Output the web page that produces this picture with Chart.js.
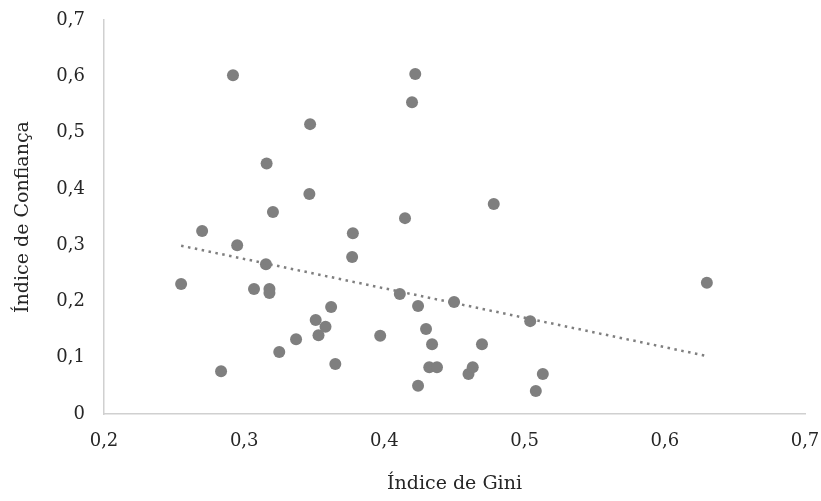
<!DOCTYPE html>
<html>
<head>
<meta charset="utf-8">
<script src="https://cdn.jsdelivr.net/npm/chart.js@4/dist/chart.umd.min.js"></script>
<style>
  body { margin: 0; background: #fff; }
  #chart { display: block; }
</style>
</head>
<body>
<canvas id="chart" width="821" height="501"></canvas>
<script>
// Índice de Gini (x) and Índice de Confiança (y)
const gini = [
  0.255, 0.270, 0.2835, 0.292, 0.295, 0.307, 0.316, 0.3155, 0.318, 0.318,
  0.3205, 0.325, 0.337, 0.3465, 0.347, 0.351, 0.353, 0.358, 0.362, 0.365,
  0.377, 0.3775, 0.397, 0.411, 0.4147, 0.4197, 0.422, 0.424, 0.424, 0.4297,
  0.434, 0.432, 0.4375, 0.4497, 0.460, 0.463, 0.4696, 0.478, 0.504, 0.508,
  0.513, 0.630
];
const confianca = [
  0.231, 0.325, 0.076, 0.602, 0.300, 0.222, 0.445, 0.266, 0.222, 0.215,
  0.359, 0.110, 0.133, 0.391, 0.515, 0.167, 0.140, 0.155, 0.190, 0.089,
  0.279, 0.321, 0.139, 0.213, 0.348, 0.554, 0.604, 0.192, 0.050, 0.151,
  0.124, 0.083, 0.083, 0.199, 0.071, 0.083, 0.124, 0.373, 0.165, 0.041,
  0.071, 0.233
];

// linear trendline ends
const trendX = [0.255, 0.630];
const trendY = [0.299, 0.103];

const xTicks = [0.2, 0.3, 0.4, 0.5, 0.6, 0.7];
const xTickLabels = ["0,2", "0,3", "0,4", "0,5", "0,6", "0,7"];
const yTicks = [0, 0.1, 0.2, 0.3, 0.4, 0.5, 0.6, 0.7];
const yTickLabels = ["0", "0,1", "0,2", "0,3", "0,4", "0,5", "0,6", "0,7"];

const fontFamily = "'DejaVu Serif', serif";
const textColor = "#262626";
const axisColor = "#d0d0d0";
const markColor = "#7f7f7f";

const ctx = document.getElementById("chart").getContext("2d");

new Chart(ctx, {
  type: "scatter",
  data: {
    datasets: [
      {
        type: "line",
        label: "Tendência",
        data: trendX.map((x, i) => ({ x: x, y: trendY[i] })),
        borderColor: markColor,
        borderWidth: 2.5,
        borderDash: [2.5, 4.5],
        pointRadius: 0,
        fill: false
      },
      {
        label: "Índice de Confiança",
        data: gini.map((x, i) => ({ x: x, y: confianca[i] })),
        backgroundColor: markColor,
        borderColor: markColor,
        pointRadius: 6,
        pointHoverRadius: 6,
        borderWidth: 0
      }
    ]
  },
  options: {
    responsive: false,
    animation: false,
    layout: { padding: 0 },
    plugins: {
      legend: { display: false },
      tooltip: { enabled: false }
    },
    scales: {
      x: {
        type: "linear",
        min: 0.2,
        max: 0.7,
        afterBuildTicks: (scale) => { scale.ticks = xTicks.map(v => ({ value: v })); },
        afterFit: (scale) => {
          scale.height = 87;
          scale.paddingLeft = 0;
          scale.paddingRight = 16;
        },
        grid: { display: false, drawTicks: false },
        border: { display: true, color: axisColor, width: 1.5 },
        ticks: {
          padding: 17,
          color: textColor,
          font: { family: fontFamily, size: 18 },
          maxRotation: 0,
          callback: (value, index) => xTickLabels[index]
        },
        title: {
          display: true,
          text: "Índice de Gini",
          color: textColor,
          font: { family: fontFamily, size: 19 },
          padding: { top: 0, bottom: 6 }
        }
      },
      y: {
        type: "linear",
        min: 0,
        max: 0.7,
        afterBuildTicks: (scale) => { scale.ticks = yTicks.map(v => ({ value: v })); },
        afterFit: (scale) => {
          scale.width = 104;
          scale.paddingTop = 20;
          scale.paddingBottom = 0;
        },
        grid: { display: false, drawTicks: false },
        border: { display: true, color: axisColor, width: 1.5 },
        ticks: {
          padding: 19,
          color: textColor,
          font: { family: fontFamily, size: 18 },
          callback: (value, index) => yTickLabels[index]
        },
        title: {
          display: true,
          text: "Índice de Confiança",
          color: textColor,
          font: { family: fontFamily, size: 19 },
          padding: { top: 12, bottom: 0 }
        }
      }
    }
  }
});
</script>
</body>
</html>
